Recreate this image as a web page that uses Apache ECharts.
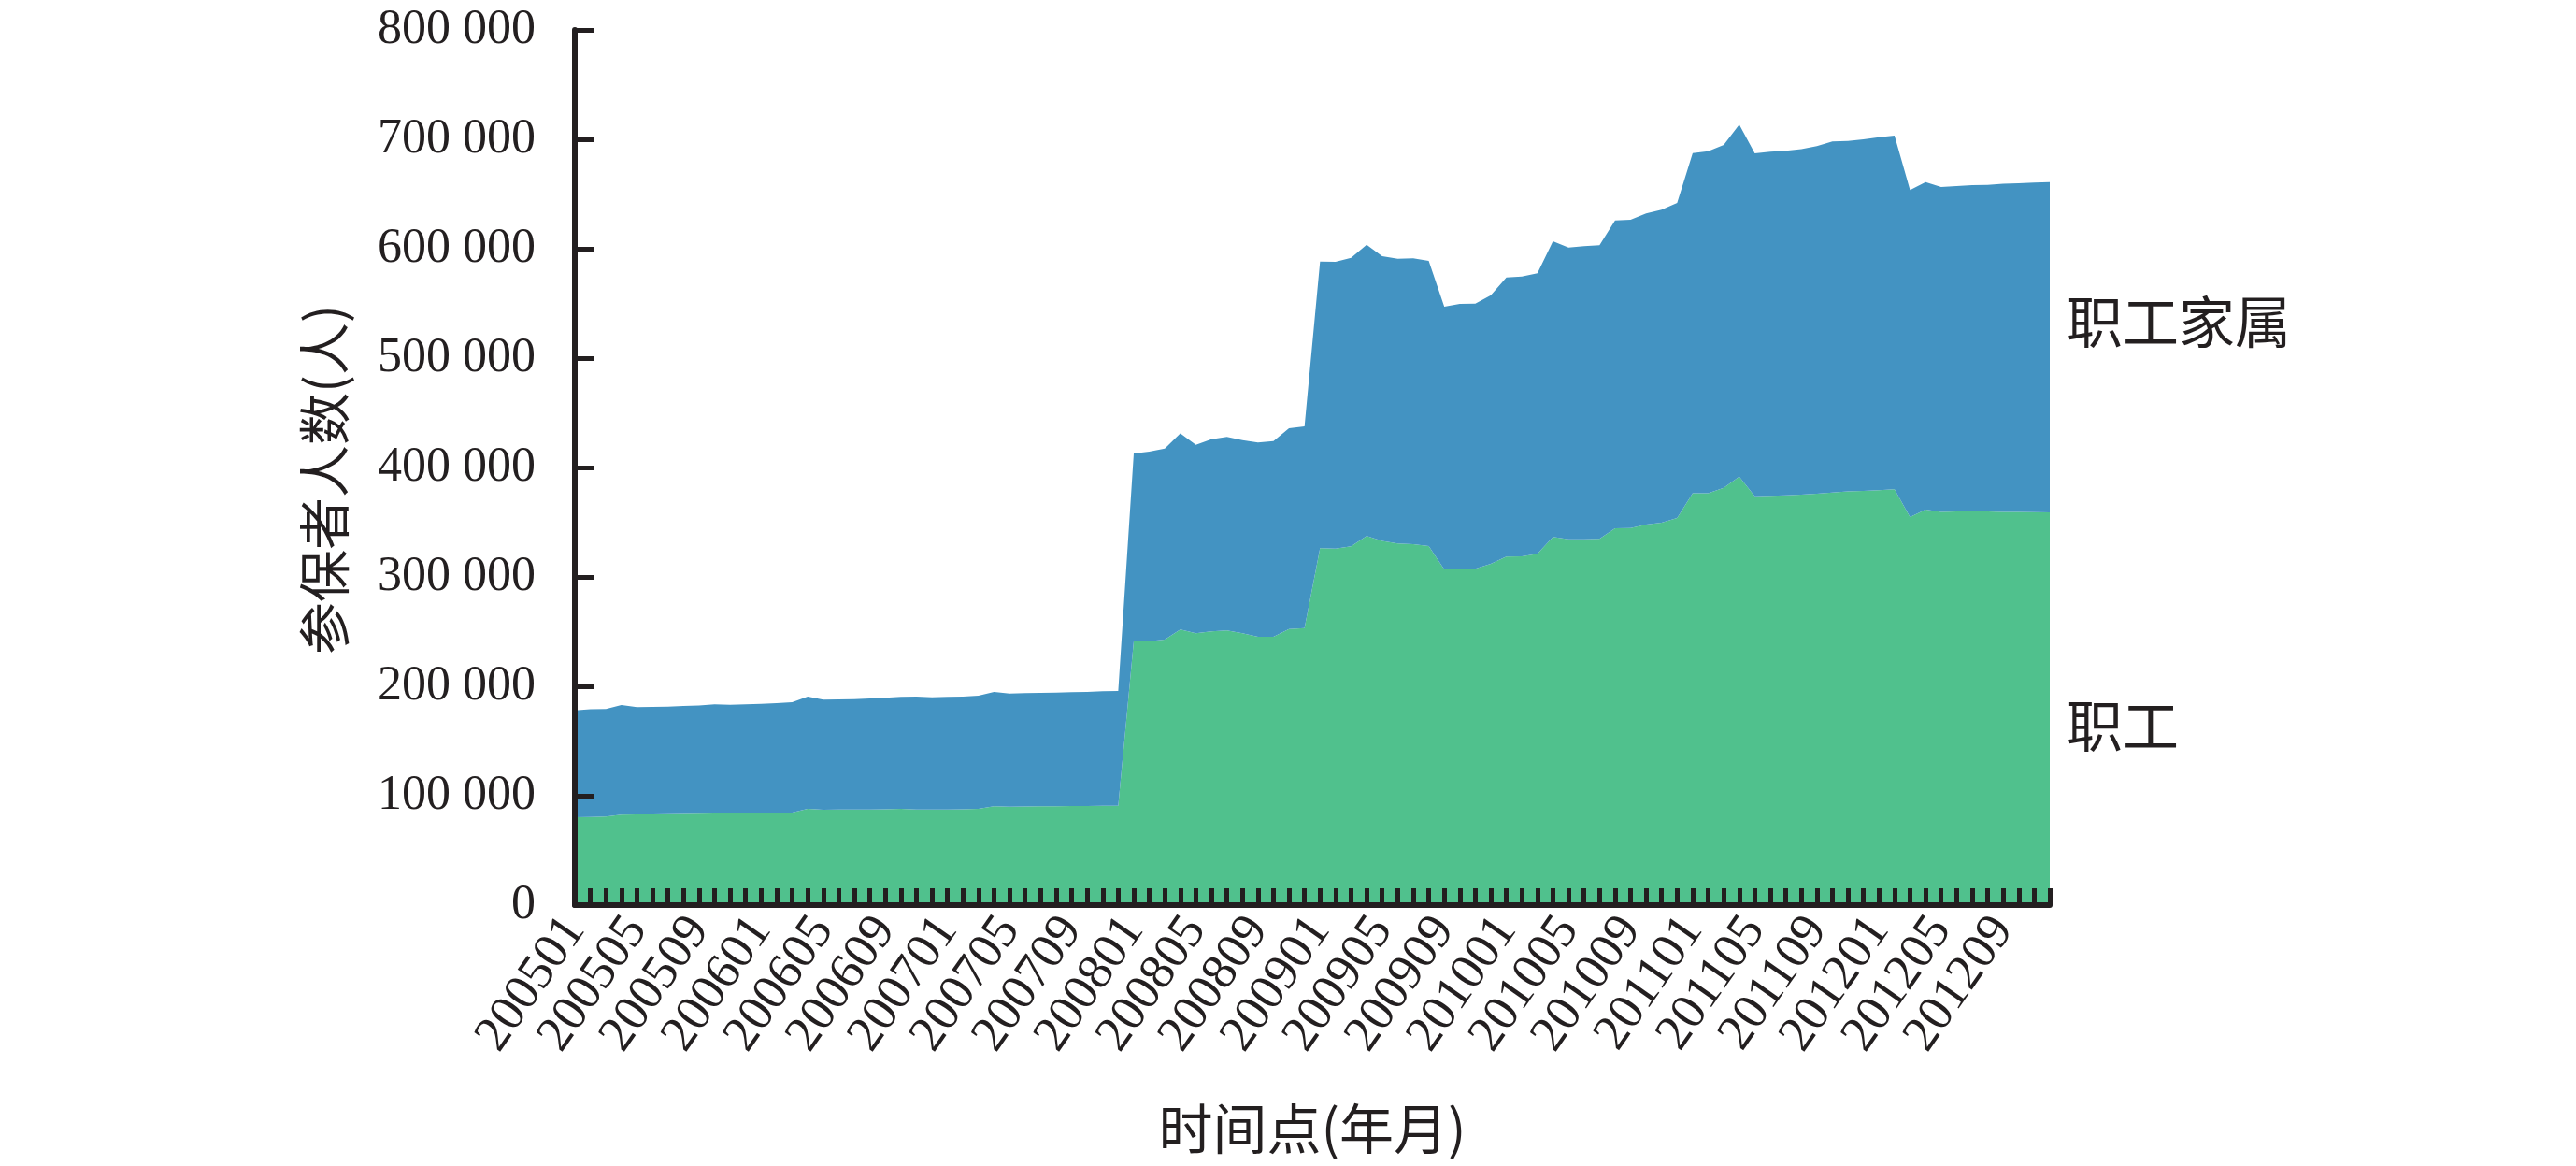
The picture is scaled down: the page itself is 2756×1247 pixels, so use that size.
<!DOCTYPE html>
<html><head><meta charset="utf-8">
<script src="https://cdn.jsdelivr.net/npm/echarts@6/dist/echarts.min.js"></script>
<style>html,body{margin:0;padding:0;background:#fff}#c{width:2756px;height:1247px}</style>
</head><body><div id="c"></div>
<script>
const categories = [
'200501','200502','200503','200504','200505','200506','200507','200508','200509','200510','200511','200512',
'200601','200602','200603','200604','200605','200606','200607','200608','200609','200610','200611','200612',
'200701','200702','200703','200704','200705','200706','200707','200708','200709','200710','200711','200712',
'200801','200802','200803','200804','200805','200806','200807','200808','200809','200810','200811','200812',
'200901','200902','200903','200904','200905','200906','200907','200908','200909','200910','200911','200912',
'201001','201002','201003','201004','201005','201006','201007','201008','201009','201010','201011','201012',
'201101','201102','201103','201104','201105','201106','201107','201108','201109','201110','201111','201112',
'201201','201202','201203','201204','201205','201206','201207','201208','201209','201210','201211','201212'];

// 职工
const workers = [
80300,80600,81000,82600,82900,83000,83200,83300,83500,83800,83800,84000,
84200,84400,84600,88000,87200,87300,87400,87500,87600,88000,87500,87400,
87400,87600,88000,90300,90000,90200,90300,90400,90500,90600,90800,90900,
241300,241300,242700,251900,248500,250200,251000,248500,245300,245300,252400,253300,
326200,325900,327900,337300,333000,330500,329900,328200,306800,307400,307400,312000,
318500,318800,321100,336500,334500,334500,334800,344400,344700,347900,349600,353900,
376400,376600,381500,391700,373800,374100,374600,375200,376100,377200,378100,378600,
379200,380100,354700,361500,359500,359800,360100,359800,359500,359500,359200,359000];

// 职工家属
const dependents = [
97700,98400,98200,100300,98000,98200,98300,98700,99000,99700,99400,99500,
99800,100200,100900,102600,100600,100700,100900,101300,101900,102300,103100,102600,
102900,103000,103400,104600,103400,103500,103700,103900,104100,104300,104700,104800,
171500,173200,174700,179400,172300,175700,176900,176600,177500,178900,183500,184300,
262100,262100,263800,266400,260200,260400,261300,260700,240200,242200,242400,245500,
255300,255800,256400,270300,266600,267800,268400,281500,281800,284300,286000,288000,
311100,312600,313400,321700,313400,314500,314900,315800,317600,320800,320400,321400,
322800,323400,298900,299500,296900,297400,298000,298600,300000,300300,301200,302000];

const yTicks = [0,100000,200000,300000,400000,500000,600000,700000,800000];
const seriesNames = ['职工','职工家属'];

const INK = '#231f20';
const SERIF = '"Liberation Serif","Times New Roman",serif';
const CJK = '"Noto Sans CJK SC","Noto Sans",sans-serif';

const chart = echarts.init(document.getElementById('c'), null, {renderer:'canvas'});
chart.setOption({
  animation:false,
  backgroundColor:'#ffffff',
  grid:{left:615, right:563, top:32, bottom:279, containLabel:false},
  xAxis:{
    type:'category', data:categories, boundaryGap:false, z:10,
    axisLine:{show:true, lineStyle:{color:INK, width:6}},
    axisTick:{show:true, inside:true, interval:0, length:18, lineStyle:{color:INK, width:5}},
    axisLabel:{interval:function(i){return i%4===0;}, rotate:55, margin:18,
      fontSize:54, fontFamily:SERIF, color:INK},
    name:'时间点(年月)', nameLocation:'middle', nameGap:210,
    nameTextStyle:{fontSize:58, fontFamily:CJK, color:INK},
    splitLine:{show:false}
  },
  yAxis:{
    type:'value', min:yTicks[0], max:yTicks[yTicks.length-1], interval:100000, z:10,
    axisLine:{show:true, lineStyle:{color:INK, width:6}},
    axisTick:{show:true, inside:true, length:20, lineStyle:{color:INK, width:5}},
    axisLabel:{margin:42, fontSize:52, fontFamily:SERIF, color:INK,
      formatter:function(v){ return v===0 ? '0' : (v/1000)+' 000'; }},
    name:'参保者人数(人)', nameLocation:'middle', nameRotate:90, nameGap:240,
    nameTextStyle:{fontSize:56, fontFamily:CJK, color:INK, padding:[0,0,0,-26]},
    splitLine:{show:false}
  },
  series:[
    {name:seriesNames[0], type:'line', stack:'total', data:workers, showSymbol:false, symbol:'none',
      lineStyle:{width:0, opacity:0}, areaStyle:{color:'#50c18d', opacity:1}, itemStyle:{color:'#50c18d'}},
    {name:seriesNames[1], type:'line', stack:'total', data:dependents, showSymbol:false, symbol:'none',
      lineStyle:{width:0, opacity:0}, areaStyle:{color:'#4393c2', opacity:1}, itemStyle:{color:'#4393c2'}}
  ],
  graphic:[
    {type:'text', left:2211, top:314, style:{text:seriesNames[1], font:'60px '+CJK, fill:INK}},
    {type:'text', left:2211, top:746, style:{text:seriesNames[0], font:'60px '+CJK, fill:INK}}
  ]
});
</script></body></html>
